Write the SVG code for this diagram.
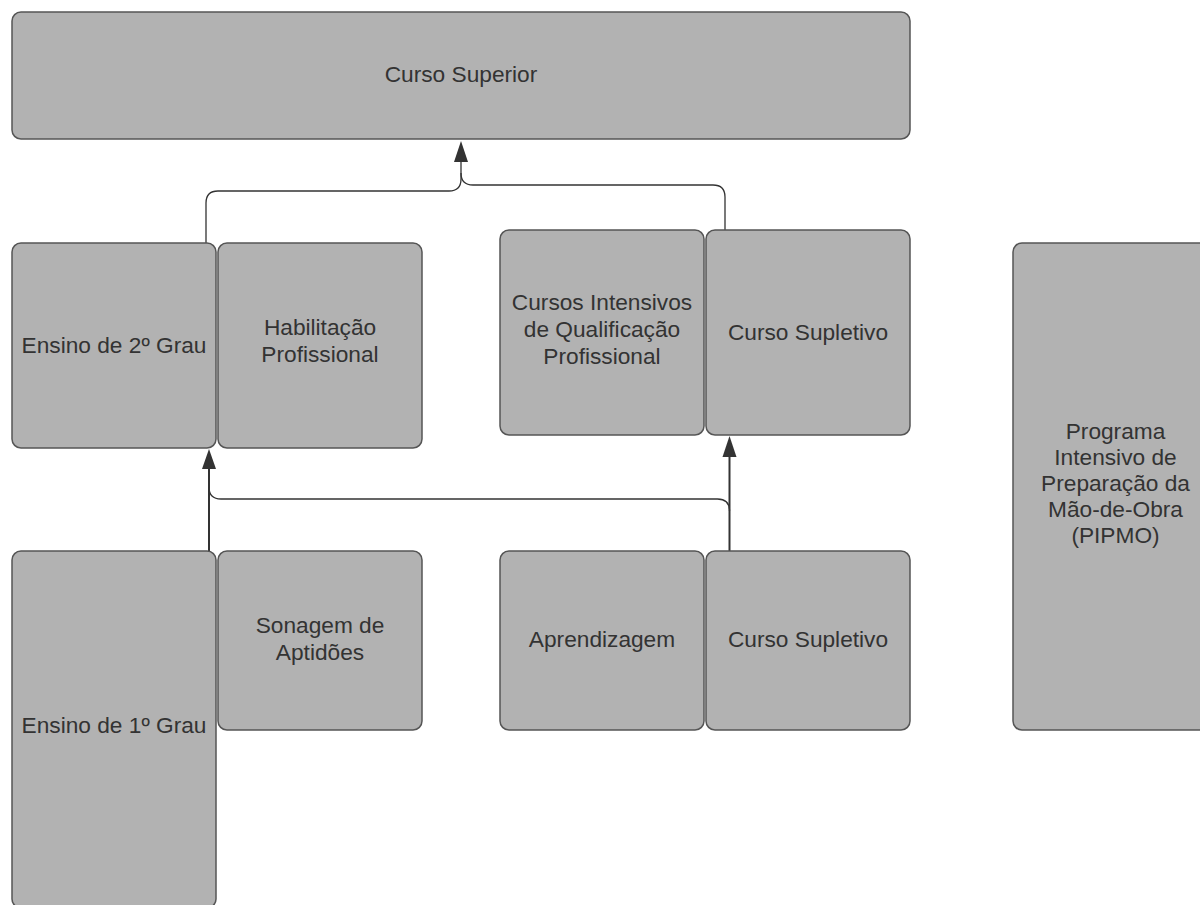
<svg xmlns="http://www.w3.org/2000/svg" width="1200" height="905" viewBox="0 0 1200 905">
  <defs>
    <style>
      .box { fill: #b2b2b2; stroke: #555555; stroke-width: 1.5; }
      .lbl { font-family: "Liberation Sans", Arial, sans-serif; font-size: 22.7px; fill: #333333; text-anchor: middle; }
      .wire { fill: none; stroke: #333333; stroke-width: 1.3; }
      .wire-bold { fill: none; stroke: #333333; stroke-width: 2; }
      .head { fill: #333333; stroke: none; }
    </style>
  </defs>
  <rect width="1200" height="905" fill="#ffffff"/>

  <g id="connectors">
    <!-- Ensino de 2º Grau -> Curso Superior -->
    <path class="wire" d="M206,243 V203 Q206,191 218,191 H449 Q461,191 461,179 V160"/>
    <!-- Curso Supletivo -> Curso Superior -->
    <path class="wire" d="M725,230 V197 Q725,185 713,185 H473 Q461,185 461,173"/>
    <polygon class="head" points="461,141 454,162 468,162"/>

    <!-- Ensino de 1º Grau -> Ensino de 2º Grau -->
    <path class="wire-bold" d="M209,551 V467"/>
    <polygon class="head" points="209,449 202,469 216,469"/>
    <!-- Curso Supletivo (1º) -> Curso Supletivo (2º) -->
    <path class="wire-bold" d="M729.5,551 V454"/>
    <polygon class="head" points="729.5,436 722.5,457 736.5,457"/>
    <!-- cross link between the two columns -->
    <path class="wire" d="M729.5,511 Q729.5,499 717.5,499 H221 Q209,499 209,487"/>
  </g>

  <g id="curso-superior">
    <rect class="box" x="12" y="12" width="898" height="127" rx="9"/>
    <text class="lbl" x="461" y="81.5">Curso Superior</text>
  </g>

  <g id="ensino-2-grau">
    <rect class="box" x="12" y="243" width="204" height="205" rx="9"/>
    <text class="lbl" x="114" y="352.5">Ensino de 2º Grau</text>
  </g>

  <g id="habilitacao-profissional">
    <rect class="box" x="218" y="243" width="204" height="205" rx="9"/>
    <text class="lbl" x="320" y="334.5">Habilitação</text>
    <text class="lbl" x="320" y="361.5">Profissional</text>
  </g>

  <g id="cursos-intensivos">
    <rect class="box" x="500" y="230" width="204" height="205" rx="9"/>
    <text class="lbl" x="602" y="309.5">Cursos Intensivos</text>
    <text class="lbl" x="602" y="336.5">de Qualificação</text>
    <text class="lbl" x="602" y="363.5">Profissional</text>
  </g>

  <g id="curso-supletivo-2-grau">
    <rect class="box" x="706" y="230" width="204" height="205" rx="9"/>
    <text class="lbl" x="808" y="339.5">Curso Supletivo</text>
  </g>

  <g id="pipmo">
    <rect class="box" x="1013" y="243" width="204" height="487" rx="9"/>
    <text class="lbl" x="1115.5" y="439">Programa</text>
    <text class="lbl" x="1115.5" y="465">Intensivo de</text>
    <text class="lbl" x="1115.5" y="491">Preparação da</text>
    <text class="lbl" x="1115.5" y="517">Mão-de-Obra</text>
    <text class="lbl" x="1115.5" y="543">(PIPMO)</text>
  </g>

  <g id="ensino-1-grau">
    <rect class="box" x="12" y="551" width="204" height="357" rx="9"/>
    <text class="lbl" x="114" y="733">Ensino de 1º Grau</text>
  </g>

  <g id="sonagem-aptidoes">
    <rect class="box" x="218" y="551" width="204" height="179" rx="9"/>
    <text class="lbl" x="320" y="633">Sonagem de</text>
    <text class="lbl" x="320" y="660">Aptidões</text>
  </g>

  <g id="aprendizagem">
    <rect class="box" x="500" y="551" width="204" height="179" rx="9"/>
    <text class="lbl" x="602" y="647">Aprendizagem</text>
  </g>

  <g id="curso-supletivo-1-grau">
    <rect class="box" x="706" y="551" width="204" height="179" rx="9"/>
    <text class="lbl" x="808" y="647">Curso Supletivo</text>
  </g>
</svg>
